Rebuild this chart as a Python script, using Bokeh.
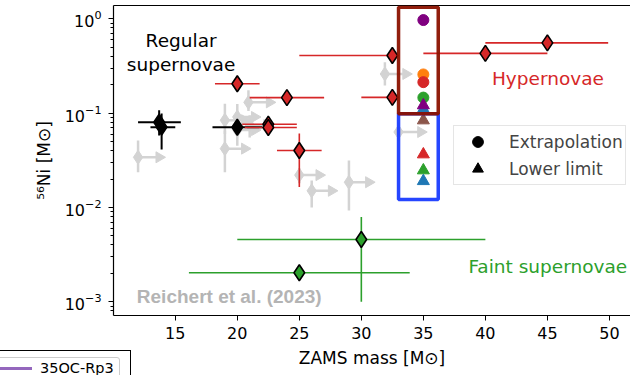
import math
from bokeh.plotting import figure
from bokeh.layouts import column
from bokeh.models import (ColumnDataSource, Range1d, FixedTicker, Label, Legend, LegendItem,
                          BoxAnnotation, LinearAxis, Div)
from bokeh.embed import file_html
from bokeh.resources import INLINE

# ---------------- data ----------------
# Reichert et al. (2023): grey points, lower limits on mass (arrows to the right)
gr_mass = [12.0, 19.0, 19.0, 20.0, 20.0, 20.9, 21.0, 25.0, 26.0, 29.0, 31.9, 33.0]
gr_ni = [0.034, 0.084, 0.042, 0.091, 0.066, 0.130, 0.075, 0.022, 0.015, 0.0185, 0.26, 0.063]
gr_ni_lo = [0.0236, 0.060, 0.0236, 0.062, 0.045, 0.105, 0.055, 0.018, 0.0100, 0.0093, 0.196, 0.050]
gr_ni_hi = [0.0513, 0.1255, 0.0654, 0.125, 0.085, 0.175, 0.095, 0.026, 0.0193, 0.0314, 0.347, 0.080]
gr_mass_arrow = [13.7, 20.6, 20.6, 21.4, 21.4, 22.6, 22.4, 26.6, 27.6, 30.6, 33.6, 34.8]

# Regular supernovae (black)
reg_mass = [13.7, 13.9, 20.0]
reg_ni = [0.080, 0.071, 0.0707]
reg_mass_lo = [12.0, 13.0, 18.0]
reg_mass_hi = [15.45, 15.0, 22.0]
reg_ni_lo = [0.058, 0.041, 0.0707]
reg_ni_hi = [0.107, 0.099, 0.0707]

# Hypernovae (red)
hn_mass = [20.0, 24.0, 22.5, 22.5, 25.0, 32.5, 32.5, 40.0, 45.0]
hn_ni = [0.205, 0.146, 0.0762, 0.0703, 0.0401, 0.408, 0.147, 0.43, 0.555]
hn_mass_lo = [18.2, 21.0, 20.4, 20.6, 23.2, 25.0, 30.0, 35.0, 40.0]
hn_mass_hi = [21.8, 27.0, 24.8, 24.8, 26.8, 33.0, 33.0, 45.0, 49.9]
hn_ni_lo = [0.205, 0.146, 0.0762, 0.0703, 0.0165, 0.408, 0.147, 0.43, 0.555]
hn_ni_hi = [0.205, 0.146, 0.0762, 0.0703, 0.0606, 0.408, 0.147, 0.43, 0.555]

# Faint supernovae (green)
fs_mass = [30.0, 25.0]
fs_ni = [0.00457, 0.00203]
fs_mass_lo = [20.0, 16.1]
fs_mass_hi = [40.0, 33.9]
fs_ni_lo = [0.00100, 0.00203]
fs_ni_hi = [0.0079, 0.00203]

# Models at 35 Msun
ext_mass = [35.0, 35.0, 35.0, 35.0]
ext_ni = [0.97, 0.257, 0.213, 0.146]
ext_color = ["#800080", "#ff7f0e", "#d62728", "#2ca02c"]
ll_mass = [35.0, 35.0, 35.0, 35.0, 35.0, 35.0]
ll_ni = [0.110, 0.121, 0.0837, 0.0365, 0.0247, 0.0190]
ll_color = ["#1f77b4", "#800080", "#8c564b", "#d62728", "#2ca02c", "#1f77b4"]

x_ticks = [15, 20, 25, 30, 35, 40, 45, 50]

# ---------------- figure ----------------
p = figure(width=630, height=375, y_axis_type="log",
           x_range=Range1d(10.02, 51.7), y_range=Range1d(7.14e-4, 1.384),
           output_backend="svg", toolbar_location=None,
           min_border_left=113, min_border_right=0, min_border_top=5, min_border_bottom=60)
p.xgrid.visible = False
p.ygrid.visible = False
p.outline_line_color = None
p.background_fill_color = "white"
p.border_fill_color = "white"

FONT = "DejaVu Sans"
p.xaxis.ticker = FixedTicker(ticks=x_ticks)
for ax in (p.xaxis[0], p.yaxis[0]):
    ax.axis_line_color = "black"
    ax.axis_line_width = 1.2
    ax.major_tick_line_color = "black"
    ax.major_tick_in = 0
    ax.major_tick_out = 5
    ax.minor_tick_in = 0
    ax.minor_tick_out = 3
    ax.major_label_text_font = FONT
    ax.major_label_text_font_size = "16px"
    ax.major_label_text_color = "black"
    ax.axis_label_text_font = FONT
    ax.axis_label_text_font_size = "17px"
    ax.axis_label_text_font_style = "normal"
    ax.axis_label_text_color = "black"
p.xaxis.minor_tick_line_color = None
p.xaxis.major_label_standoff = 6
p.xaxis.axis_label_standoff = 6
p.yaxis.major_label_standoff = 7
p.yaxis.axis_label_standoff = 8
p.xaxis.axis_label = "ZAMS mass [M\u2299]"
p.yaxis.axis_label = "\u2075\u2076Ni [M\u2299]"

# top spine (the right spine lies outside the cropped picture)
top = LinearAxis(ticker=FixedTicker(ticks=[]), axis_line_color="black", axis_line_width=1.2,
                 major_tick_line_color=None, minor_tick_line_color=None,
                 major_label_text_font_size="0px", major_label_standoff=0)
p.add_layout(top, "above")

GREY = "#d3d3d3"
RED = "#d62728"
GREEN = "#2ca02c"

# grey points
gsrc = ColumnDataSource(dict(m=gr_mass, n=gr_ni, lo=gr_ni_lo, hi=gr_ni_hi, ma=gr_mass_arrow))
p.segment(x0="m", y0="lo", x1="m", y1="hi", source=gsrc, line_color=GREY, line_width=2.5)
p.segment(x0="m", y0="n", x1="ma", y1="n", source=gsrc, line_color=GREY, line_width=2.5)
p.scatter(x="ma", y="n", source=gsrc, marker="triangle", angle=-math.pi / 2, size=11,
          fill_color=GREY, line_color=GREY)
p.scatter(x="m", y="n", source=gsrc, marker="diamond", size=14, fill_color=GREY, line_color=GREY)

def errpoints(mass, ni, mlo, mhi, nlo, nhi, color, fill, lw):
    src = ColumnDataSource(dict(m=mass, n=ni, mlo=mlo, mhi=mhi, nlo=nlo, nhi=nhi))
    p.segment(x0="mlo", y0="n", x1="mhi", y1="n", source=src, line_color=color, line_width=lw)
    p.segment(x0="m", y0="nlo", x1="m", y1="nhi", source=src, line_color=color, line_width=lw)
    p.scatter(x="m", y="n", source=src, marker="diamond", size=16, fill_color=fill,
              line_color="black", line_width=1.6)

errpoints(reg_mass, reg_ni, reg_mass_lo, reg_mass_hi, reg_ni_lo, reg_ni_hi, "black", "black", 2.0)
errpoints(hn_mass, hn_ni, hn_mass_lo, hn_mass_hi, hn_ni_lo, hn_ni_hi, RED, RED, 1.6)
errpoints(fs_mass, fs_ni, fs_mass_lo, fs_mass_hi, fs_ni_lo, fs_ni_hi, GREEN, GREEN, 1.6)

# model markers
p.scatter(x=ext_mass, y=ext_ni, marker="circle", size=11, fill_color=ext_color, line_color=ext_color)
p.scatter(x=ll_mass, y=ll_ni, marker="triangle", size=12, fill_color=ll_color, line_color=ll_color)

# highlight boxes
p.add_layout(BoxAnnotation(left=33.0, right=36.2, top=0.0984, bottom=0.0121,
                           fill_alpha=0, line_color="#1a3cff", line_width=3.5, line_alpha=0.95))
p.add_layout(BoxAnnotation(left=33.0, right=36.2, top=1.33, bottom=0.0984,
                           fill_alpha=0, line_color="#8b1200", line_width=3.5, line_alpha=0.95))

# legend (proxy renderers with no visible point)
nan = float("nan")
r_c = p.scatter(x=[nan], y=[nan], marker="circle", size=11, color="black")
r_t = p.scatter(x=[nan], y=[nan], marker="triangle", size=11, color="black")
leg = Legend(items=[LegendItem(label="Extrapolation", renderers=[r_c]),
                    LegendItem(label="Lower limit", renderers=[r_t])],
             location=(340, 130), padding=2, spacing=-3, glyph_width=43, glyph_height=27,
             label_height=20, label_standoff=10, label_text_font=FONT,
             label_text_font_size="17px", border_line_color="#cccccc", border_line_width=1,
             background_fill_alpha=0.85, margin=0)
p.add_layout(leg)

# text labels
def txt(x, y, t, color, size="18.5px", align="left", font=FONT, style="normal"):
    lab = Label(x=x, y=y, text=t, text_color=color, text_font=font, text_font_size=size,
                text_align=align, text_baseline="middle", text_font_style=style,
                text_line_height=1.15)
    p.add_layout(lab)

txt(15.47, 0.44, "Regular\nsupernovae", "black", align="center")
txt(40.53, 0.231, "Hypernovae", RED)
txt(38.63, 0.00236, "Faint supernovae", GREEN)
txt(11.9, 0.00114, "Reichert et al. (2023)", "#b4b4b4", size="19px", font="Liberation Sans",
    style="bold")

# fragment of a neighbouring panel's legend (bottom-left corner), overlaid on the figure
frag_html = (
    '<div style="position:relative;width:140px;height:28px;overflow:hidden;">'
    '<div style="position:absolute;left:-5px;top:3px;width:136px;height:40px;'
    'border:1px solid black;box-sizing:border-box;"></div>'
    '<div style="position:absolute;left:-5px;top:10px;width:125px;height:40px;'
    'border:1px solid #cccccc;border-radius:3px;background:white;box-sizing:border-box;"></div>'
    '<div style="position:absolute;left:0px;top:20px;width:32px;height:3px;'
    'background:#9467bd;"></div>'
    '<span style="position:absolute;left:40px;top:13px;font-family:\'DejaVu Sans\';'
    'font-size:14.5px;line-height:16px;color:black;white-space:nowrap;">35OC-Rp3</span>'
    '</div>'
)
frag = Div(text=frag_html, width=140, height=28, margin=(-28, 0, 0, 0))

layout = column(p, frag, spacing=0)
open("out.html", "w").write(file_html(layout, INLINE))
